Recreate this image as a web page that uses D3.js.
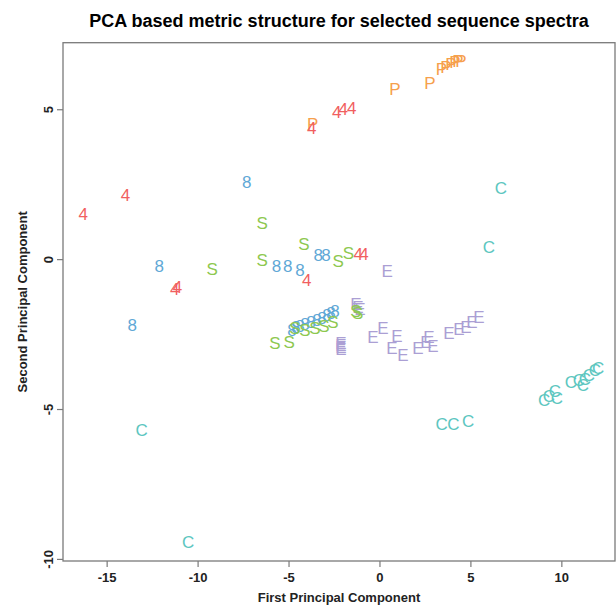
<!DOCTYPE html>
<html>
<head>
<meta charset="utf-8">
<script src="https://cdn.jsdelivr.net/npm/d3@7"></script>
<style>
  html, body { margin: 0; padding: 0; background: #fff; }
  svg { display: block; font-family: "Liberation Sans", Arial, Helvetica, sans-serif; }
</style>
</head>
<body>
<svg id="chart" width="616" height="607"></svg>
<script>
// PC1 / PC2 scores, one array per sequence group (glyph drawn at each point)
const groupE = [
  [0.43, -0.39], [-1.29, -1.48], [-1.18, -1.6], [-1.07, -1.67],
  [-2.12, -2.8], [-2.12, -2.87], [-2.12, -2.93], [-2.12, -3.0],
  [-0.36, -2.6], [0.19, -2.3], [0.69, -2.97], [0.96, -2.57], [1.29, -3.2],
  [2.12, -2.97], [2.56, -2.77], [2.72, -2.6], [2.94, -2.9],
  [3.82, -2.47], [4.37, -2.33], [4.76, -2.27], [5.09, -2.1], [5.47, -1.93]
];
const groupC = [
  [6.68, 2.37], [6.02, 0.41], [-13.08, -5.7], [-10.52, -9.44],
  [3.42, -5.48], [4.06, -5.48], [4.88, -5.4],
  [9.05, -4.7], [9.32, -4.57], [9.65, -4.4], [9.76, -4.63],
  [10.53, -4.1], [10.97, -4.03], [11.19, -4.2], [11.3, -4.0],
  [11.52, -3.87], [11.85, -3.7], [12.02, -3.63]
];
const groupP = [
  [-3.67, 4.52], [0.85, 5.69], [2.78, 5.89],
  [3.41, 6.33], [3.66, 6.4], [3.93, 6.5], [4.15, 6.57], [4.32, 6.6], [4.48, 6.6]
];
const group8 = [
  [-7.3, 2.58], [-12.11, -0.23], [-13.6, -2.18],
  [-5.66, -0.22], [-5.05, -0.22], [-4.37, -0.36], [-3.37, 0.13], [-2.94, 0.13],
  [-4.81, -2.37], [-4.59, -2.27], [-4.37, -2.23], [-4.1, -2.17], [-3.77, -2.1],
  [-3.44, -2.03], [-3.16, -1.97], [-2.89, -1.87], [-2.67, -1.8], [-2.45, -1.73]
];
const groupS = [
  [-6.45, 1.21], [-9.2, -0.31], [-6.45, -0.01], [-4.15, 0.52],
  [-2.27, -0.05], [-1.71, 0.22], [-5.75, -2.81], [-4.96, -2.76],
  [-4.65, -2.3], [-4.1, -2.37], [-3.55, -2.3], [-3.05, -2.23], [-2.56, -2.1],
  [-1.3, -1.72], [-1.2, -1.8]
];
const group4 = [
  [-16.29, 1.52], [-13.96, 2.16], [-11.25, -1.0], [-11.1, -0.93],
  [-4.0, -0.7], [-1.17, 0.17], [-0.85, 0.17],
  [-2.35, 4.9], [-1.99, 5.0], [-1.53, 5.05], [-3.73, 4.39]
];

const groups = [
  { label: 'E', color: '#ab9fd4', points: groupE },
  { label: 'C', color: '#5cc6c0', points: groupC },
  { label: 'P', color: '#f6a04d', points: groupP },
  { label: '8', color: '#5fa8d6', points: group8 },
  { label: 'S', color: '#8dc850', points: groupS },
  { label: '4', color: '#f15f5f', points: group4 }
];

const xTicks = [-15, -10, -5, 0, 5, 10];
const yTicks = [-10, -5, 0, 5];

const svg = d3.select('#chart');

// plot region
const plotLeft = 63, plotRight = 615, plotTop = 42.7, plotBottom = 561;

const x = d3.scaleLinear().domain([-17.4, 12.95]).range([plotLeft, plotRight]);
const y = d3.scaleLinear().domain([-10.07, 7.22]).range([plotBottom, plotTop]);

const minus = d => d < 0 ? '-' + Math.abs(d) : String(d);

// Title
svg.append('text')
  .attr('x', (plotLeft + plotRight) / 2)
  .attr('y', 27)
  .attr('text-anchor', 'middle')
  .style('font-size', '18px')
  .style('font-weight', 'bold')
  .text('PCA based metric structure for selected sequence spectra');

// Box
svg.append('rect')
  .attr('x', plotLeft)
  .attr('y', plotTop)
  .attr('width', plotRight - plotLeft)
  .attr('height', plotBottom - plotTop)
  .attr('fill', 'none')
  .attr('stroke', '#7a7a7a')
  .attr('stroke-width', 1.3);

// x axis
const xAxis = svg.append('g')
  .attr('transform', `translate(0,${plotBottom})`)
  .call(d3.axisBottom(x).tickValues(xTicks).tickSize(6).tickPadding(6).tickFormat(minus));
xAxis.select('.domain').remove();
xAxis.selectAll('line').attr('stroke', '#7a7a7a').attr('stroke-width', 1.2);
xAxis.selectAll('text')
  .style('font-size', '13px')
  .style('font-weight', 'bold')
  .style('font-family', '"Liberation Sans", Arial, sans-serif')
  .attr('fill', '#222');

// y axis (labels rotated, reading upward)
const yAxis = svg.append('g')
  .attr('transform', `translate(${plotLeft},0)`)
  .call(d3.axisLeft(y).tickValues(yTicks).tickSize(6).tickFormat(minus));
yAxis.select('.domain').remove();
yAxis.selectAll('line').attr('stroke', '#7a7a7a').attr('stroke-width', 1.2);
yAxis.selectAll('text')
  .style('font-size', '13px')
  .style('font-weight', 'bold')
  .style('font-family', '"Liberation Sans", Arial, sans-serif')
  .attr('fill', '#222')
  .attr('x', 0)
  .attr('y', 0)
  .attr('dy', '0.35em')
  .attr('text-anchor', 'middle')
  .attr('transform', 'translate(-15,0) rotate(-90)');

// axis titles
svg.append('text')
  .attr('x', (plotLeft + plotRight) / 2)
  .attr('y', 602)
  .attr('text-anchor', 'middle')
  .style('font-size', '13px')
  .style('font-weight', 'bold')
  .attr('fill', '#222')
  .text('First Principal Component');

svg.append('text')
  .attr('transform', `translate(27,${(plotTop + plotBottom) / 2}) rotate(-90)`)
  .attr('text-anchor', 'middle')
  .style('font-size', '13px')
  .style('font-weight', 'bold')
  .attr('fill', '#222')
  .text('Second Principal Component');

// glyph markers
const plot = svg.append('g');
groups.forEach(g => {
  plot.selectAll(null)
    .data(g.points)
    .enter()
    .append('text')
    .attr('x', d => x(d[0]))
    .attr('y', d => y(d[1]))
    .attr('dy', '0.36em')
    .attr('text-anchor', 'middle')
    .attr('fill', g.color)
    .style('font-size', '17px')
    .text(g.label);
});
</script>
</body>
</html>
